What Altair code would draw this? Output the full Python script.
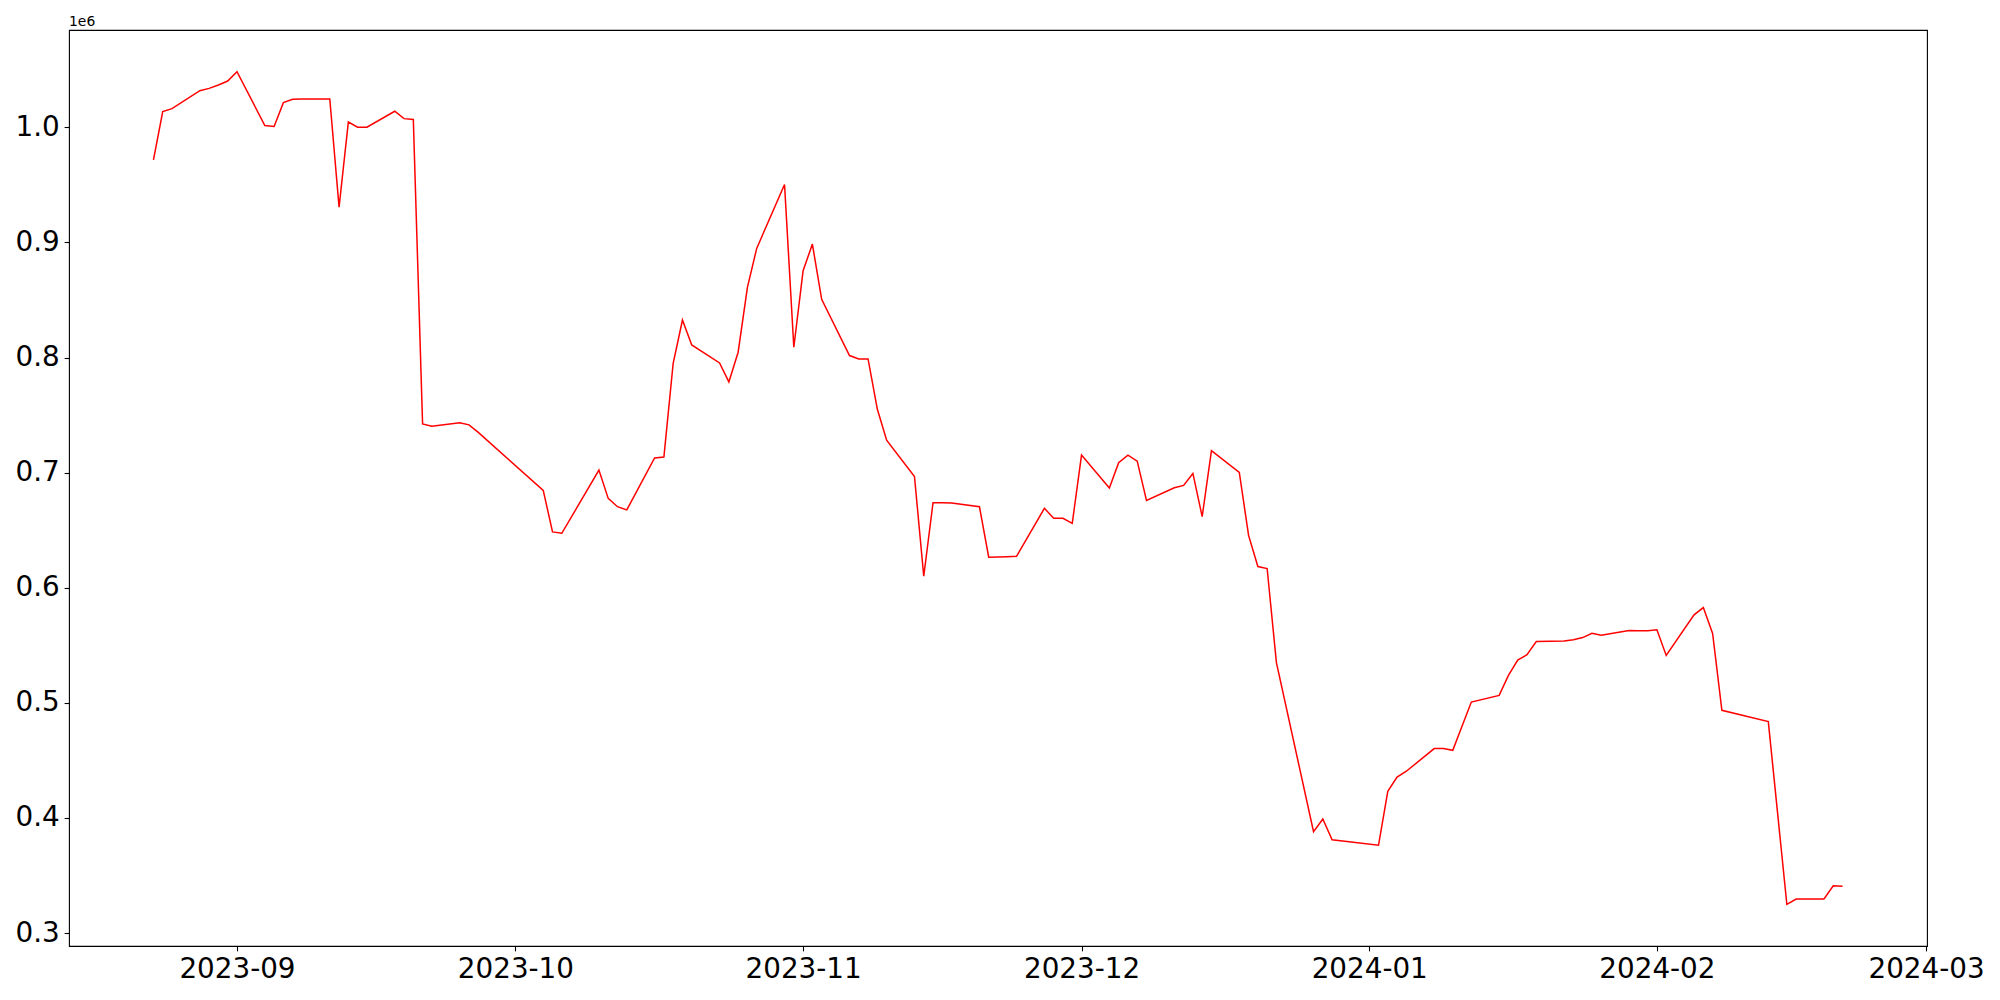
import altair as alt
import pandas as pd

dates = [
    "2023-08-23", "2023-08-24", "2023-08-25", "2023-08-28", "2023-08-29", "2023-08-30", "2023-08-31", "2023-09-01",
    "2023-09-04", "2023-09-05", "2023-09-06", "2023-09-07", "2023-09-08", "2023-09-11", "2023-09-12", "2023-09-13",
    "2023-09-14", "2023-09-15", "2023-09-18", "2023-09-19", "2023-09-20", "2023-09-21", "2023-09-22", "2023-09-25",
    "2023-09-26", "2023-09-27", "2023-10-04", "2023-10-05", "2023-10-06", "2023-10-10", "2023-10-11", "2023-10-12",
    "2023-10-13", "2023-10-16", "2023-10-17", "2023-10-18", "2023-10-19", "2023-10-20", "2023-10-23", "2023-10-24",
    "2023-10-25", "2023-10-26", "2023-10-27", "2023-10-30", "2023-10-31", "2023-11-01", "2023-11-02", "2023-11-03",
    "2023-11-06", "2023-11-07", "2023-11-08", "2023-11-09", "2023-11-10", "2023-11-13", "2023-11-14", "2023-11-15",
    "2023-11-16", "2023-11-17", "2023-11-20", "2023-11-21", "2023-11-22", "2023-11-23", "2023-11-24", "2023-11-27",
    "2023-11-28", "2023-11-29", "2023-11-30", "2023-12-01", "2023-12-04", "2023-12-05", "2023-12-06", "2023-12-07",
    "2023-12-08", "2023-12-11", "2023-12-12", "2023-12-13", "2023-12-14", "2023-12-15", "2023-12-18", "2023-12-19",
    "2023-12-20", "2023-12-21", "2023-12-22", "2023-12-26", "2023-12-27", "2023-12-28", "2024-01-02", "2024-01-03",
    "2024-01-04", "2024-01-05", "2024-01-08", "2024-01-09", "2024-01-10", "2024-01-12", "2024-01-15", "2024-01-16",
    "2024-01-17", "2024-01-18", "2024-01-19", "2024-01-22", "2024-01-23", "2024-01-24", "2024-01-25", "2024-01-26",
    "2024-01-29", "2024-01-30", "2024-01-31", "2024-02-01", "2024-02-02", "2024-02-05", "2024-02-06", "2024-02-07",
    "2024-02-08", "2024-02-13", "2024-02-15", "2024-02-16", "2024-02-19", "2024-02-20", "2024-02-21",
]

values = [
    971600, 1013600, 1016200, 1031800, 1033800, 1036700, 1040200, 1048300,
    1001500, 1000700, 1021400, 1024300, 1024600, 1024600, 930600, 1004600,
    1000000, 1000000, 1013900, 1007500, 1006800, 742300, 740400, 743400,
    741500, 735000, 684600, 648500, 647300, 702200, 677600, 670400,
    667600, 712700, 713500, 795000, 832600, 810900, 795300, 778800,
    804600, 861000, 894800, 950300, 808900, 875400, 898500, 850500,
    801700, 798800, 798800, 755000, 728200, 696700, 610000, 673900,
    673800, 673600, 670400, 626500, 626700, 627000, 627300, 669000,
    660300, 660300, 655900, 715200, 686600, 708600, 715200, 710000,
    675900, 686900, 688900, 699300, 661800, 719000, 700200, 645500,
    618400, 616700, 534900, 388100, 399100, 381000, 376300, 423100,
    435500, 440600, 460300, 460300, 458800, 500700, 506500, 523900,
    537200, 541800, 553300, 553700, 554900, 556700, 560500, 558800,
    562900, 562700, 562700, 563500, 541200, 576500, 582800, 560300,
    493500, 483700, 325000, 329600, 329600, 341100, 340800,
]

y_ticks = [300000, 400000, 500000, 600000, 700000, 800000, 900000, 1000000]
x_tick_months = [(2023, 9), (2023, 10), (2023, 11), (2023, 12), (2024, 1), (2024, 2), (2024, 3)]

df = pd.DataFrame({"date": dates, "value": values})

x_scale = alt.Scale(
    type="utc",
    domain=[
        alt.DateTime(year=2023, month=8, date=13, hours=21, minutes=36, utc=True),
        alt.DateTime(year=2024, month=3, date=1, hours=2, minutes=24, utc=True),
    ],
)
y_scale = alt.Scale(domain=[288800, 1084500], nice=False, zero=False)

FONT = "DejaVu Sans"

axis_common = dict(
    title=None,
    grid=False,
    domain=False,
    tickColor="black",
    tickWidth=1.1,
    tickSize=4.9,
    labelPadding=4.9,
    labelFont=FONT,
    labelFontSize=27.8,
    labelColor="black",
    labelFlush=False,
    labelOverlap=False,
)

line = alt.Chart(df).mark_line(color="#ff0000", strokeWidth=1.5).encode(
    x=alt.X(
        "date:T",
        scale=x_scale,
        axis=alt.Axis(
            values=[alt.DateTime(year=y, month=m, date=1, utc=True) for y, m in x_tick_months],
            format="%Y-%m",
            **axis_common,
        ),
    ),
    y=alt.Y(
        "value:Q",
        scale=y_scale,
        axis=alt.Axis(
            values=y_ticks,
            labelExpr="format(datum.value / 1000000, '.1f')",
            **axis_common,
        ),
    ),
)

offset = alt.Chart(pd.DataFrame({"t": ["1e6"]})).mark_text(
    align="left", baseline="alphabetic", font=FONT, fontSize=13.9, color="black"
).encode(x=alt.value(0), y=alt.value(-4.3), text="t:N")

chart = alt.layer(line, offset).properties(
    width=1858,
    height=916,
    padding={"left": 61, "top": 22, "right": 62, "bottom": 40},
    autosize=alt.AutoSizeParams(type="none"),
    background="white",
).configure_view(stroke="black", strokeWidth=1.1)

chart.save("out.html", embed_options={"renderer": "svg", "actions": False})
